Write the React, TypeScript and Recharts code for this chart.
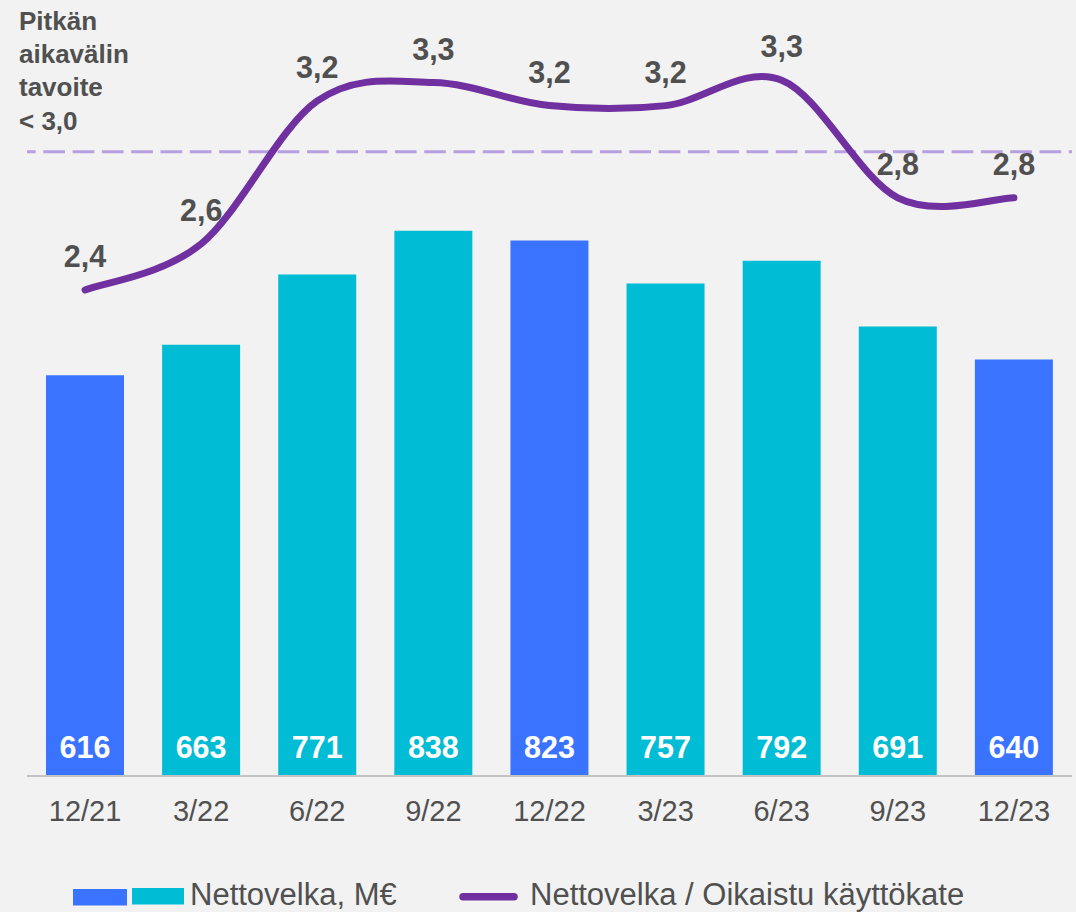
import { ComposedChart, Bar, Line, XAxis, YAxis, Cell, LabelList, ReferenceLine } from "recharts";

const periods = ["12/21", "3/22", "6/22", "9/22", "12/22", "3/23", "6/23", "9/23", "12/23"];
const netDebt = [616, 663, 771, 838, 823, 757, 792, 691, 640];
const debtRatio = [2.4, 2.6, 3.22, 3.3, 3.2, 3.2, 3.31, 2.8, 2.8];
const ratioTarget = 3.0;
const targetNote = ["Pitkän", "aikavälin", "tavoite", "< 3,0"];
const legendLabels = ["Nettovelka, M€", "Nettovelka / Oikaistu käyttökate"];

const chartData = periods.map((period, i) => ({
    period,
    debt: netDebt[i],
    ratio: debtRatio[i],
}));

const BLUE = "#3A73FF";
const CYAN = "#00BCD5";
const PURPLE = "#7030A0";
const TEXT = "#505050";
const FONT = "'Liberation Sans', Arial, sans-serif";

// Excel-style smoothed line (Catmull-Rom through every point)
function smoothCurve(context) {
    let pts = [];
    return {
        areaStart() {},
        areaEnd() {},
        lineStart() {
            pts = [];
        },
        point(x, y) {
            pts.push([+x, +y]);
        },
        lineEnd() {
            if (!pts.length) return;
            context.moveTo(pts[0][0], pts[0][1]);
            for (let i = 0; i < pts.length - 1; i++) {
                const p0 = pts[i - 1] || pts[i];
                const p1 = pts[i];
                const p2 = pts[i + 1];
                const p3 = pts[i + 2] || p2;
                context.bezierCurveTo(
                    p1[0] + (p2[0] - p0[0]) / 6,
                    p1[1] + (p2[1] - p0[1]) / 6,
                    p2[0] - (p3[0] - p1[0]) / 6,
                    p2[1] - (p3[1] - p1[1]) / 6,
                    p2[0],
                    p2[1]
                );
            }
        },
    };
}

const fmtRatio = (v) => Number(v).toFixed(1).replace(".", ",");

export default function App() {
    return (
        <div
            style={{
                position: "absolute",
                left: 0,
                top: 0,
                width: 1076,
                height: 912,
                background: "#F2F2F2",
                fontFamily: FONT,
                overflow: "hidden",
            }}
        >
            <ComposedChart
                width={1076}
                height={912}
                data={chartData}
                margin={{ top: 20, right: 4, left: 27, bottom: 0 }}
            >
                <XAxis
                    dataKey="period"
                    height={136}
                    tickLine={false}
                    tickSize={0}
                    tickMargin={24}
                    axisLine={{ stroke: "#C4C4C4", strokeWidth: 2 }}
                    tick={{ fill: TEXT, fontSize: 29 }}
                    interval={0}
                />
                <YAxis yAxisId="debt" hide domain={[0, 1162]} />
                <YAxis yAxisId="ratio" hide domain={[0.2915, 3.5714]} allowDataOverflow />
                <Bar yAxisId="debt" dataKey="debt" barSize={78} isAnimationActive={false}>
                    {chartData.map((d) => (
                        <Cell key={d.period} fill={d.period.startsWith("12/") ? BLUE : CYAN} />
                    ))}
                    <LabelList
                        dataKey="debt"
                        position="insideBottom"
                        offset={18}
                        fill="#FFFFFF"
                        fontSize={30.5}
                        fontWeight="bold"
                    />
                </Bar>
                <ReferenceLine
                    yAxisId="ratio"
                    y={ratioTarget}
                    stroke="#B6A1E0"
                    strokeWidth={3}
                    strokeDasharray="21.7 7.6"
                    strokeDashoffset={13}
                />
                <Line
                    yAxisId="ratio"
                    dataKey="ratio"
                    type={smoothCurve}
                    stroke={PURPLE}
                    strokeWidth={7}
                    strokeLinecap="round"
                    dot={false}
                    activeDot={false}
                    isAnimationActive={false}
                >
                    <LabelList
                        dataKey="ratio"
                        position="top"
                        offset={23}
                        formatter={fmtRatio}
                        fill={TEXT}
                        fontSize={30.5}
                        fontWeight="bold"
                    />
                </Line>
            </ComposedChart>

            <svg
                width={1076}
                height={912}
                style={{ position: "absolute", left: 0, top: 0, pointerEvents: "none" }}
            >
                {targetNote.map((line, i) => (
                    <text
                        key={line}
                        x={19}
                        y={29.5 + i * 33.4}
                        fill={TEXT}
                        fontSize={26}
                        fontWeight="bold"
                        fontFamily={FONT}
                    >
                        {line}
                    </text>
                ))}
                <rect x={73} y={889} width={54} height={16.5} fill={BLUE} />
                <rect x={132} y={888} width={52} height={16.5} fill={CYAN} />
                <text x={190} y={904.5} fill={TEXT} fontSize={31} fontFamily={FONT}>
                    {legendLabels[0]}
                </text>
                <line
                    x1={463}
                    y1={896.7}
                    x2={514}
                    y2={896.7}
                    stroke={PURPLE}
                    strokeWidth={7.5}
                    strokeLinecap="round"
                />
                <text x={530} y={904.5} fill={TEXT} fontSize={31} fontFamily={FONT}>
                    {legendLabels[1]}
                </text>
            </svg>
        </div>
    );
}
